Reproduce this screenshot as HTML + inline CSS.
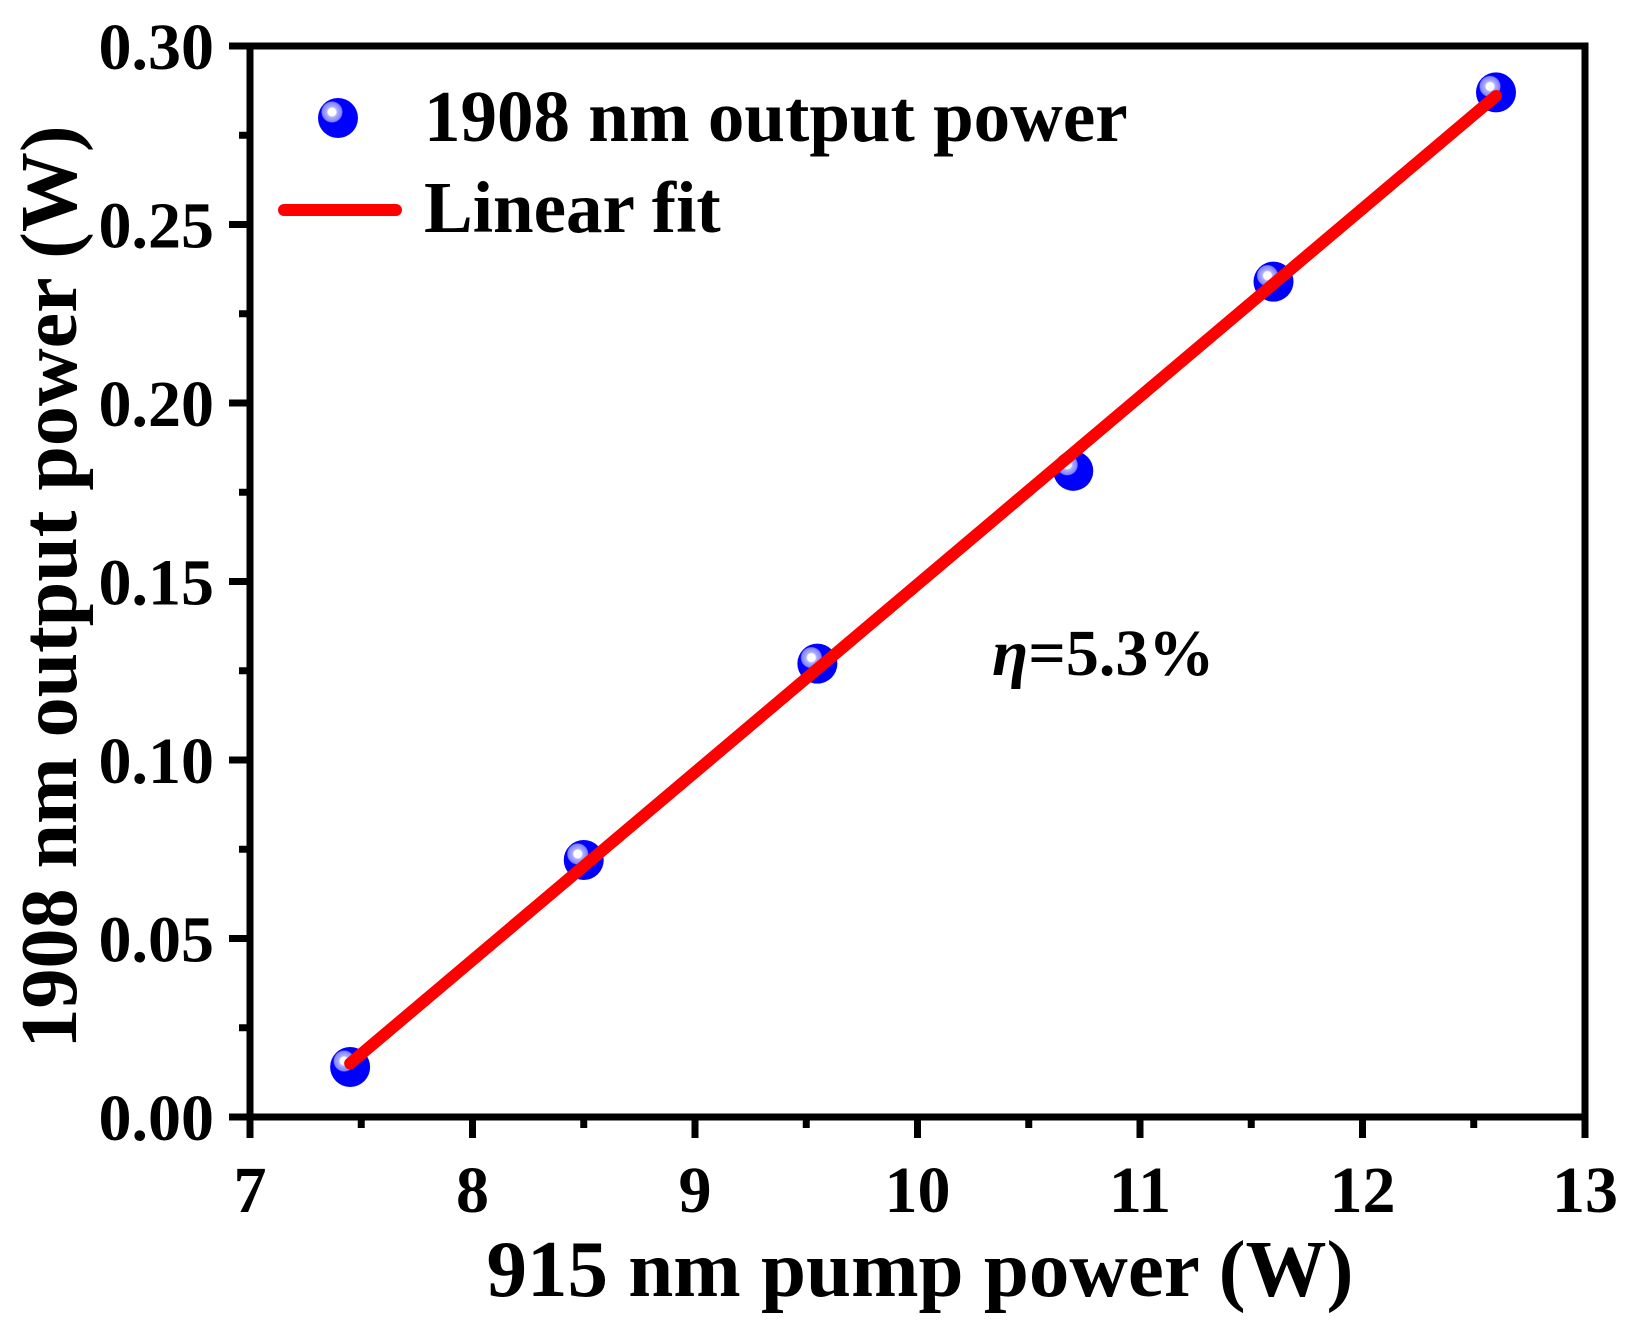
<!DOCTYPE html>
<html><head><meta charset="utf-8"><style>
html,body{margin:0;padding:0;background:#fff;}
svg text{font-family:"Liberation Serif","DejaVu Serif",serif;font-weight:bold;fill:#000;}
</style></head><body>
<svg id="chart" width="1635" height="1325" viewBox="0 0 1635 1325" xmlns="http://www.w3.org/2000/svg">
<defs>
<radialGradient id="ball" cx="0.35" cy="0.35" r="0.65">
<stop offset="0" stop-color="#ffffff"/>
<stop offset="0.15" stop-color="#ffffff"/>
<stop offset="0.2" stop-color="#b0b0ff"/>
<stop offset="0.38" stop-color="#8080ff"/>
<stop offset="0.42" stop-color="#0000ff"/>
<stop offset="1" stop-color="#0000ff"/>
</radialGradient>
</defs>
<g id="axes"></g>
<g id="plot"></g>
<text x="920" y="1296" font-size="81" text-anchor="middle">915 nm pump power (W)</text>
<text transform="translate(76,587) rotate(-90)" font-size="80" text-anchor="middle">1908 nm output power (W)</text>
<g>
<circle cx="338" cy="118" r="20" fill="url(#ball)"/>
<text x="424" y="141" font-size="73">1908 nm output power</text>
<line x1="284" y1="210" x2="396" y2="210" stroke="#ff0000" stroke-width="12" stroke-linecap="round"/>
<text x="424" y="232" font-size="73">Linear fit</text>
</g>
<text x="992" y="675" font-size="66"><tspan font-style="italic">η</tspan>=5.3%</text>
</svg>
<script>
const xTicks = [7, 8, 9, 10, 11, 12, 13];
const yTicks = [0, 0.05, 0.10, 0.15, 0.20, 0.25, 0.30];
const yTickLabels = ["0.00", "0.05", "0.10", "0.15", "0.20", "0.25", "0.30"];
const pumpPower = [7.45, 8.5, 9.55, 10.7, 11.6, 12.6];
const outputPower = [0.014, 0.072, 0.127, 0.181, 0.234, 0.287];
const fitX = [7.45, 12.6];
const fitY = [0.015, 0.286];

const NS = "http://www.w3.org/2000/svg";
const L = 250, R = 1585, T = 46, B = 1117;
const xs = v => L + (v - 7) / 6 * (R - L);
const ys = v => B - v / 0.30 * (B - T);
function mk(tag, attrs, parent) {
  const e = document.createElementNS(NS, tag);
  for (const k in attrs) e.setAttribute(k, attrs[k]);
  parent.appendChild(e);
  return e;
}
const axes = document.getElementById('axes');
const plot = document.getElementById('plot');

const frame = mk('rect', {x: L, y: T, width: R - L, height: B - T, fill: 'none', stroke: '#000', 'stroke-width': 7}, axes);



xTicks.forEach((v, i) => {
  const x = xs(v);
  const t = mk('line', {x1: x, y1: B, x2: x, y2: B + 21, stroke: '#000', 'stroke-width': 7}, axes);
  
  
  if (i < xTicks.length - 1) {
    const xm = xs(v + 0.5);
    const m = mk('line', {x1: xm, y1: B, x2: xm, y2: B + 11, stroke: '#000', 'stroke-width': 7}, axes);
    
    
  }
  const lb = mk('text', {x: x, y: 1212, 'font-size': 66, 'text-anchor': 'middle'}, axes);
  lb.textContent = String(v);
  
  
});
yTicks.forEach((v, i) => {
  const y = ys(v);
  const t = mk('line', {x1: L - 21, y1: y, x2: L, y2: y, stroke: '#000', 'stroke-width': 7}, axes);
  
  
  if (i < yTicks.length - 1) {
    const ym = ys(v + 0.025);
    const m = mk('line', {x1: L - 11, y1: ym, x2: L, y2: ym, stroke: '#000', 'stroke-width': 7}, axes);
    
    
  }
  const lb = mk('text', {x: 214, y: y + 23, 'font-size': 66, 'text-anchor': 'end'}, axes);
  lb.textContent = yTickLabels[i];
  
  
});

pumpPower.forEach((v, i) => {
  const c = mk('circle', {cx: xs(v), cy: ys(outputPower[i]), r: 20, fill: 'url(#ball)'}, plot);
  
  
});
const fit = mk('line', {x1: xs(fitX[0]), y1: ys(fitY[0]), x2: xs(fitX[1]), y2: ys(fitY[1]), stroke: '#ff0000', 'stroke-width': 12, 'stroke-linecap': 'round'}, plot);


</script>
</body></html>
